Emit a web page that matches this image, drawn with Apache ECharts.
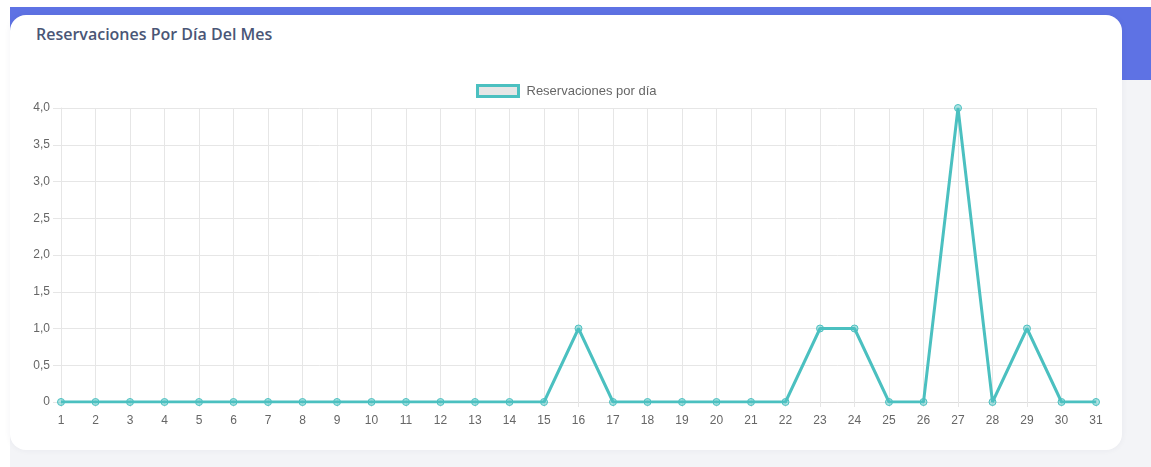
<!DOCTYPE html>
<html>
<head>
<meta charset="utf-8">
<script src="https://cdn.jsdelivr.net/npm/echarts@6/dist/echarts.min.js"></script>
<style>
  html, body { margin: 0; padding: 0; background: #ffffff; }
  body { width: 1151px; height: 467px; position: relative; overflow: hidden; }
  .page { position: absolute; left: 10px; top: 7px; right: 0; bottom: 0; background: #f3f4f7; }
  .header { position: absolute; left: 0; top: 0; right: 0; height: 73px; background: #5e72e4; }
  .card {
    position: absolute; left: 10px; top: 15px; width: 1112px; height: 435px;
    background: #ffffff; border-radius: 16px;
    box-shadow: 0 0 6px rgba(50, 50, 93, 0.06);
  }
  .card h3 {
    position: absolute; left: 26px; top: 8px; margin: 0;
    font-family: "Open Sans", sans-serif; font-weight: 600; font-size: 16px;
    color: #4a5676; letter-spacing: 0;
  }
  #chart { position: absolute; left: 0; top: 0; width: 1151px; height: 467px; }
</style>
</head>
<body>
<div class="page"><div class="header"></div></div>
<div class="card"><h3>Reservaciones Por Día Del Mes</h3></div>
<div id="chart"></div>
<script>
// Days of the month and reservations per day
const days = ['1','2','3','4','5','6','7','8','9','10','11','12','13','14','15','16',
              '17','18','19','20','21','22','23','24','25','26','27','28','29','30','31'];
const reservations = [0,0,0,0,0,0,0,0,0,0,0,0,0,0,0,1,0,0,0,0,0,0,1,1,0,0,4,0,1,0,0];
const seriesName = 'Reservaciones por día';

const teal = '#4bc0c0';
const gridColor = '#e6e6e6';
const labelFont = { color: '#666666', fontSize: 12, fontFamily: '"Liberation Sans", Arial, sans-serif' };

const chart = echarts.init(document.getElementById('chart'), null, { renderer: 'canvas' });
chart.setOption({
  animation: false,
  legend: {
    data: [seriesName],
    left: 471, top: 79,
    icon: 'rect', itemWidth: 41, itemHeight: 11, itemGap: 10,
    itemStyle: { color: '#e6e6e6', borderColor: teal, borderWidth: 3 },
    textStyle: Object.assign({}, labelFont, { fontSize: 13, padding: [0, 0, 0, 3] })
  },
  grid: { left: 61, right: 55, top: 108, bottom: 65, containLabel: false },
  xAxis: {
    type: 'category',
    data: days,
    boundaryGap: false,
    axisLine: { show: true, lineStyle: { color: '#dcdcdc', width: 1 } },
    axisTick: { show: true, alignWithLabel: true, length: 5, lineStyle: { color: gridColor } },
    axisLabel: Object.assign({ margin: 13, interval: 0 }, labelFont),
    splitLine: { show: true, lineStyle: { color: gridColor, width: 1 } }
  },
  yAxis: {
    type: 'value',
    min: 0, max: 4, interval: 0.5,
    axisLine: { show: true, lineStyle: { color: gridColor } },
    axisTick: { show: true, length: 8, lineStyle: { color: gridColor } },
    axisLabel: Object.assign({
      margin: 11,
      formatter: v => v === 0 ? '0' : v.toFixed(1).replace('.', ',')
    }, labelFont),
    splitLine: { show: true, lineStyle: { color: gridColor, width: 1 } }
  },
  series: [{
    name: seriesName,
    type: 'line',
    data: reservations,
    smooth: false,
    symbol: 'circle',
    symbolSize: 7,
    showAllSymbol: true,
    lineStyle: { color: teal, width: 3 },
    itemStyle: { color: 'rgba(75,192,192,0.45)', borderColor: teal, borderWidth: 1 },
    emphasis: { disabled: true }
  }]
});
</script>
</body>
</html>
